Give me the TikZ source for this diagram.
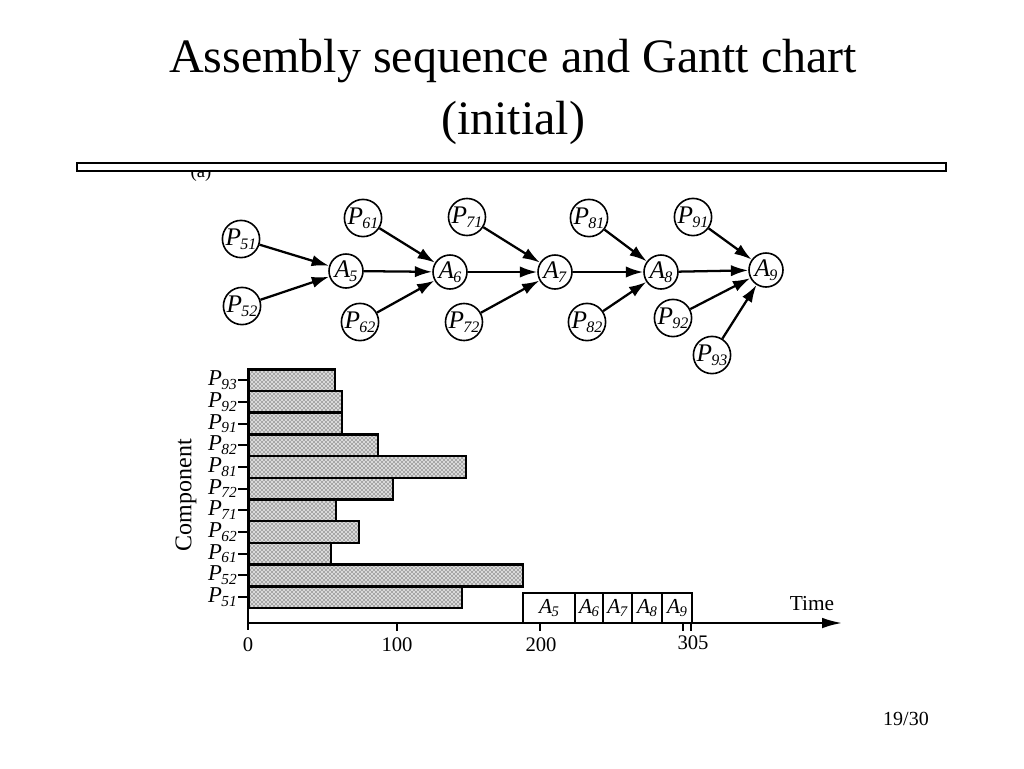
\documentclass[tikz,border=0pt]{standalone}
\usepackage{fontspec}
\setmainfont{Liberation Serif}
\usetikzlibrary{arrows.meta,patterns}
\newcommand\lbl[3]{\textit{#1}\kern-0.5pt\raisebox{-0.35ex}{\fontsize{#3}{#3}\selectfont\textit{#2}}}
\begin{document}
\begin{tikzpicture}[x=0.75pt,y=-0.75pt,
  pnode/.style={circle,draw,line width=1.2pt,minimum size=25.5pt,inner sep=0pt,font=\fontsize{19}{19}\selectfont},
  flow/.style={line width=1.7pt,-{Latex[length=13pt,width=8.5pt]}},
  bar/.style={draw,line width=1.9pt,preaction={fill=gray!30},pattern=crosshatch dots,pattern color=black},
  axisline/.style={line width=1.5pt},
  gl/.style={font=\fontsize{17}{17}\selectfont,inner sep=0pt},
  abox/.style={draw,line width=1.4pt,inner sep=0pt,minimum height=22.5pt,font=\fontsize{16}{16}\selectfont},
  tl/.style={font=\fontsize{15.5}{15.5}\selectfont,inner sep=0pt}
]
\useasboundingbox (0,0) rectangle (1024,768);
% title
\node[font=\fontsize{36}{46.5}\selectfont,align=center,inner sep=0pt] (title) at (513,92) {Assembly sequence and Gantt chart\\(initial)};
\draw[line width=1.2pt,fill=white] (77,163) rectangle (946,171);
\begin{scope}
\clip (180,172) rectangle (225,195);
\node[font=\fontsize{14}{14}\selectfont,inner sep=0pt] (lbla) at (201,173) {(a)};
\end{scope}
% precedence graph
\node[pnode] (P51) at (241,239) {\lbl{P}{51}{12}};
\node[pnode] (P52) at (242,306) {\lbl{P}{52}{12}};
\node[pnode] (A5) at (346,271) {\lbl{A}{5}{12}};
\node[pnode] (P61) at (363,218) {\lbl{P}{61}{12}};
\node[pnode] (P62) at (360,322) {\lbl{P}{62}{12}};
\node[pnode] (A6) at (450,272) {\lbl{A}{6}{12}};
\node[pnode] (P71) at (467,217) {\lbl{P}{71}{12}};
\node[pnode] (P72) at (464,322) {\lbl{P}{72}{12}};
\node[pnode] (A7) at (555,272) {\lbl{A}{7}{12}};
\node[pnode] (P81) at (589,218) {\lbl{P}{81}{12}};
\node[pnode] (P82) at (587,322) {\lbl{P}{82}{12}};
\node[pnode] (A8) at (661,272) {\lbl{A}{8}{12}};
\node[pnode] (P91) at (693,217) {\lbl{P}{91}{12}};
\node[pnode] (P92) at (673,318) {\lbl{P}{92}{12}};
\node[pnode] (P93) at (712,355) {\lbl{P}{93}{12}};
\node[pnode] (A9) at (766,270) {\lbl{A}{9}{12}};
\foreach \s/\t in {P51/A5,P52/A5,A5/A6,P61/A6,P62/A6,A6/A7,P71/A7,P72/A7,A7/A8,P81/A8,P82/A8,A8/A9,P91/A9,P92/A9,P93/A9}
  \draw[flow] (\s) -- (\t);
% Gantt chart bars
\foreach \i/\r/\nm in {0/462/51,1/523/52,2/331/61,3/359/62,4/336/71,5/393/72,6/466/81,7/378/82,8/342/91,9/342/92,10/335/93}{
  \pgfmathsetmacro\yb{608-21.7*\i}
  \pgfmathsetmacro\yt{\yb-21.7}
  \pgfmathsetmacro\yc{\yb-10.85}
  \draw[bar] (249,\yb) rectangle (\r,\yt);
  \draw[axisline] (238,\yc) -- (248,\yc);
  \node[gl,anchor=east] (g\nm) at (237,\yc) {\lbl{P}{\nm}{11.5}};
}
\node[rotate=90,font=\fontsize{18}{18}\selectfont,inner sep=0pt] (comp) at (186,495) {Component};
% axes
\coordinate (yt) at (248,368);
\coordinate (yb) at (248,630);
\coordinate (o) at (248,623);
\coordinate (xe) at (842,623);
\draw[axisline] (yt) -- (yb);
\draw[axisline,-{Latex[length=15pt,width=8pt]}] (o) -- (xe);
% assembly boxes
\node[abox,minimum width=39pt] (b5) at (549,608) {\lbl{A}{5}{11}};
\node[abox,minimum width=21pt] (b6) at (589,608) {\lbl{A}{6}{11}};
\node[abox,minimum width=21.75pt] (b7) at (617.5,608) {\lbl{A}{7}{11}};
\node[abox,minimum width=22.5pt] (b8) at (647,608) {\lbl{A}{8}{11}};
\node[abox,minimum width=22.5pt] (b9) at (677,608) {\lbl{A}{9}{11}};
% ticks
\foreach \x in {397,540,683,691}
  \draw[axisline] (\x,623) -- (\x,631);
\node[tl] (t0) at (248,645) {0};
\node[tl] (t100) at (397,645) {100};
\node[tl] (t200) at (541,645) {200};
\node[tl] (t305) at (693,643) {305};
\node[font=\fontsize{16}{16}\selectfont,inner sep=0pt] (time) at (812,604) {Time};
\node[font=\fontsize{15}{15}\selectfont,inner sep=0pt] (page) at (906,719) {19/30};
\end{tikzpicture}
\end{document}
